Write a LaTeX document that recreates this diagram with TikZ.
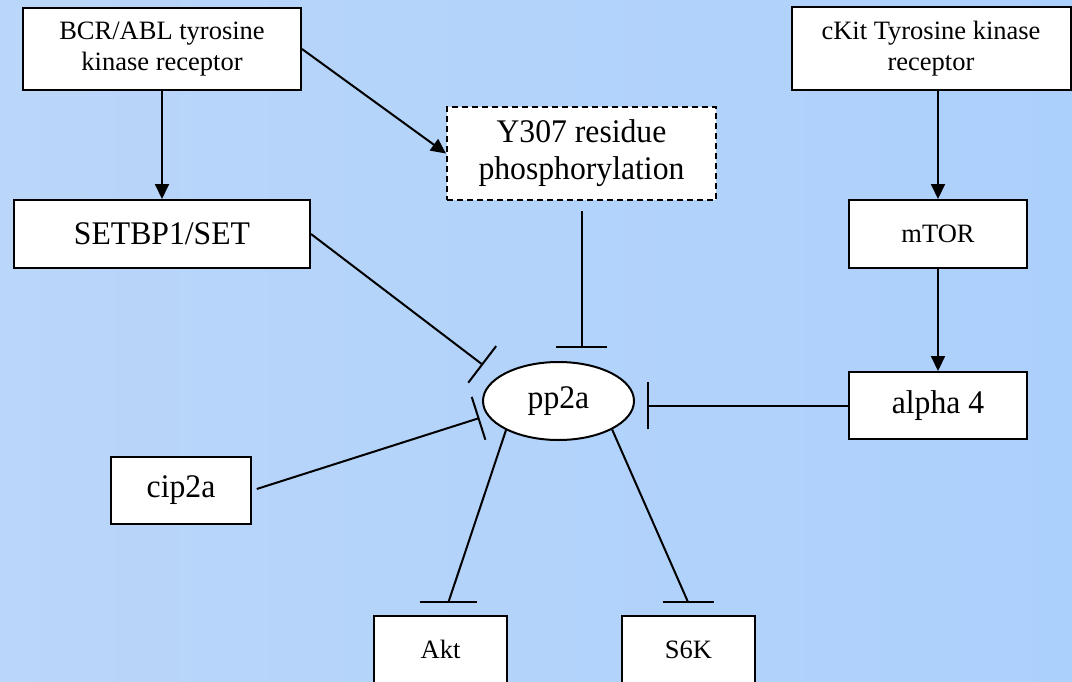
\documentclass[tikz,border=0pt]{standalone}
\usepackage{fontspec}
\setmainfont{Liberation Serif}
\newfontfamily\tallfont{Liberation Serif}[FakeStretch=0.96]
\usetikzlibrary{arrows.meta,shapes.geometric,calc}
\definecolor{bgleft}{RGB}{186,214,249}
\definecolor{bgright}{RGB}{172,208,252}
\begin{document}
\begin{tikzpicture}[x=1pt,y=-1pt,
    box/.style={draw, fill=white, line width=2pt, inner sep=0pt, align=center},
    big/.style={font=\tallfont\fontsize{33}{37}\selectfont},
    small/.style={font=\fontsize{26.5}{31}\selectfont},
    arr/.style={line width=2pt, -{Triangle[length=15pt,width=14pt]}},
    inh/.style={line width=2pt, -{Bar[width=#1]}},
    bar/.style={line width=2pt}]
    \clip (0,0) rectangle (1072,681);
    \shade[left color=bgleft, right color=bgright] (0,0) rectangle (1072,681);
    % receptors
    \node[box, small, minimum width=278pt, minimum height=82pt] (bcr) at (162,49) {BCR/ABL tyrosine\\kinase receptor};
    \node[box, small, minimum width=279pt, minimum height=83pt] (ckit) at (931,48.5) {cKit Tyrosine kinase\\receptor};
    \node[box, big, minimum width=296pt, minimum height=68pt] (setbp) at (162,234) {SETBP1/SET};
    \node[box, big, dash pattern=on 6pt off 4pt, minimum width=269pt, minimum height=93pt] (y307) at (581.5,153.5) {Y307 residue\\phosphorylation};
    \node[box, small, minimum width=178pt, minimum height=68pt] (mtor) at (938,234) {mTOR};
    \node[box, big, minimum width=178pt, minimum height=67pt] (alpha) at (938,405.5) {alpha 4};
    % phosphatase
    \node[box, big, ellipse, minimum width=151pt, minimum height=78pt] (pp2a) at (558.5,401) {pp2a};
    \node[box, big, minimum width=140pt, minimum height=67pt] (cip) at (181,490.5) {cip2a};
    \node[box, small, minimum width=133pt, minimum height=67pt] (akt) at (440.5,649.5) {Akt};
    \node[box, small, minimum width=133pt, minimum height=67pt] (s6k) at (688.5,649.5) {S6K};
    \coordinate (setbar) at (483,365);
    \coordinate (cipbar) at (479.5,418);
    \coordinate (aktbar) at (448.5,602);
    \coordinate (s6kbar) at (688,602);
    % activation
    \draw[arr] (bcr) -- (setbp);
    \draw[arr] (bcr.east) -- (y307.west);
    \draw[arr] (ckit.south -| mtor.north) -- (mtor.north);
    \draw[arr] (mtor) -- (alpha);
    % inhibition
    \draw[inh=46pt] (setbp.east) -- (setbar);
    \draw[inh=45pt, shorten <=5pt] (cip.east) -- (cipbar);
    \draw[inh=51pt, shorten <=10pt] (y307.south) -- ($(y307.south |- pp2a.north)+(0,-13)$);
    \draw[inh=47pt] (alpha.west) -- ($(alpha.west -| pp2a.east)+(12,0)$);
    \draw[bar] (pp2a.209) -- (aktbar);
    \draw[bar] ($(aktbar)+(-28.5,0)$) -- ($(aktbar)+(28.5,0)$);
    \draw[bar] (pp2a.332) -- (s6kbar);
    \draw[bar] ($(s6kbar)+(-25.5,0)$) -- ($(s6kbar)+(25.5,0)$);
\end{tikzpicture}
\end{document}
